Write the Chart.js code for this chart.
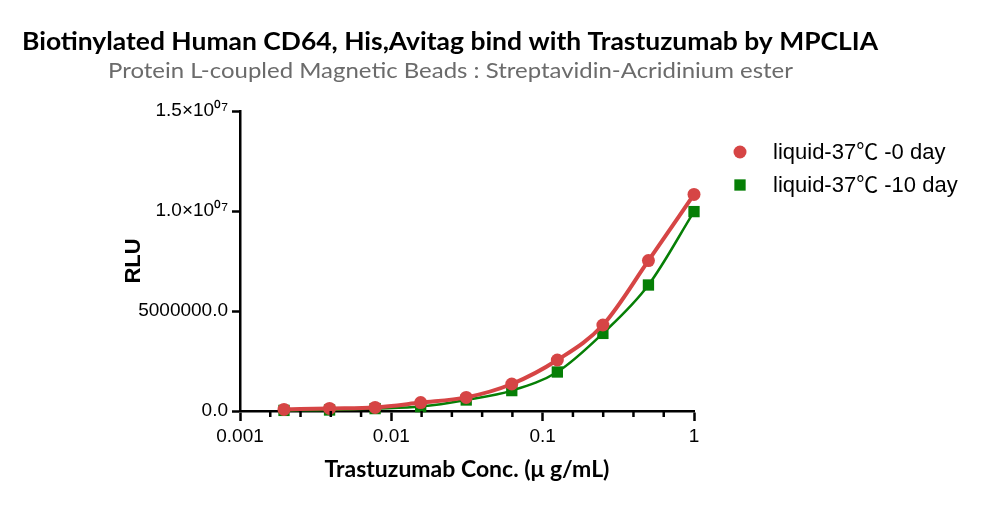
<!DOCTYPE html>
<html>
<head>
<meta charset="utf-8">
<script src="https://cdn.jsdelivr.net/npm/chart.js@4.4.1/dist/chart.umd.min.js"></script>
<style>
  html, body { margin: 0; padding: 0; background: #fff; }
  canvas { display: block; }
</style>
</head>
<body>
<canvas id="chart" width="1000" height="506"></canvas>
<script>
/* ---------- DATA ---------- */
const conc = [0.001953, 0.003906, 0.007813, 0.015625, 0.03125, 0.0625, 0.125, 0.25, 0.5, 1];
const day0 = [80000, 130000, 180000, 420000, 680000, 1350000, 2550000, 4300000, 7520000, 10830000];
const day10 = [30000, 50000, 120000, 220000, 550000, 1020000, 1950000, 3880000, 6300000, 9970000];
const seriesLabels = ["liquid-37℃ -0 day", "liquid-37℃ -10 day"];
const xTickValues = [0.001, 0.01, 0.1, 1];
const xTickLabels = ["0.001", "0.01", "0.1", "1"];
const yTickValues = [0, 5000000, 10000000, 15000000];
const yTickLabels = ["0.0", "5000000.0", "1.0×10⁰⁷", "1.5×10⁰⁷"];

const chartTitle = "Biotinylated Human CD64, His,Avitag bind with Trastuzumab by MPCLIA";
const chartSubtitle = "Protein L-coupled Magnetic Beads : Streptavidin-Acridinium ester";

/* ---------- COLORS ---------- */
const red = "#d64545";
const green = "#067f06";
const black = "#000";

/* ---------- HELPERS ---------- */
// draw text at a given size, squeezed horizontally so it spans a given width
function fitText(ctx, text, x, y, width, size, weight, family, color) {
  ctx.font = `${weight} ${size}px ${family}`;
  const sx = width / ctx.measureText(text).width;
  ctx.save();
  ctx.translate(x, y);
  ctx.scale(sx, 1);
  ctx.fillStyle = color;
  ctx.textAlign = "left";
  ctx.textBaseline = "alphabetic";
  ctx.fillText(text, 0, 0);
  ctx.restore();
}

/* ---------- PLUGINS ---------- */
const headerPlugin = {
  id: "header",
  afterDraw(chart) {
    const ctx = chart.ctx;
    fitText(ctx, chartTitle, 22, 50, 856, 25, "bold", "Lato", black);
    fitText(ctx, chartSubtitle, 108, 78, 685, 21.5, "normal", "Lato", "#6b6b6b");
  },
};

const minorTicks = {
  id: "minorTicks",
  afterDraw(chart) {
    const x = chart.scales.x;
    const ctx = chart.ctx;
    ctx.save();
    ctx.strokeStyle = black;
    ctx.lineWidth = 2.5;
    for (let d = -3; d < 0; d++) {
      for (let k = 1; k < 5; k++) {
        const px = x.getPixelForValue(Math.pow(10, d + k / 5));
        ctx.beginPath();
        ctx.moveTo(px, x.top);
        ctx.lineTo(px, x.top + 6);
        ctx.stroke();
      }
    }
    ctx.restore();
  },
};

const sideLegend = {
  id: "sideLegend",
  afterDraw(chart) {
    const ctx = chart.ctx;
    ctx.save();
    chart.data.datasets.forEach((ds, i) => {
      const y = 152 + i * 33;
      ctx.fillStyle = ds.pointBackgroundColor;
      Chart.helpers.drawPoint(
        ctx,
        { pointStyle: ds.pointStyle, radius: ds.pointRadius, rotation: 0, borderWidth: 0 },
        740,
        y,
      );
      ctx.fillStyle = black;
      ctx.font = "22px 'Liberation Sans', 'Noto Sans CJK SC', sans-serif";
      ctx.textBaseline = "middle";
      ctx.textAlign = "left";
      ctx.fillText(ds.label, 773, y + 1);
    });
    ctx.restore();
  },
};

/* ---------- CHART ---------- */
const tickFont = { family: "'Liberation Sans', Arial, sans-serif", size: 19 };

new Chart(document.getElementById("chart").getContext("2d"), {
  type: "line",
  data: {
    datasets: [
      {
        label: seriesLabels[0],
        data: conc.map((c, i) => ({ x: c, y: day0[i] })),
        borderColor: red,
        backgroundColor: red,
        pointBackgroundColor: red,
        pointBorderWidth: 0,
        pointStyle: "circle",
        pointRadius: 6.5,
        borderWidth: 4,
        cubicInterpolationMode: "monotone",
        clip: false,
      },
      {
        label: seriesLabels[1],
        data: conc.map((c, i) => ({ x: c, y: day10[i] })),
        borderColor: green,
        backgroundColor: green,
        pointBackgroundColor: green,
        pointBorderWidth: 0,
        pointStyle: "rect",
        pointRadius: 8,
        borderWidth: 2.5,
        cubicInterpolationMode: "monotone",
        clip: false,
      },
    ],
  },
  options: {
    responsive: false,
    animation: false,
    devicePixelRatio: 1,
    layout: { padding: { top: 111, right: 306, left: 0, bottom: 0 } },
    plugins: {
      legend: { display: false },
      tooltip: { enabled: false },
    },
    scales: {
      x: {
        type: "logarithmic",
        min: 0.001,
        max: 1,
        afterBuildTicks: (s) => {
          s.ticks = xTickValues.map((v) => ({ value: v }));
        },
        afterFit: (s) => {
          s.height = 95;
        },
        ticks: {
          color: black,
          font: tickFont,
          padding: 4,
          maxRotation: 0,
          autoSkip: false,
          callback: (v) => xTickLabels[xTickValues.indexOf(v)],
        },
        grid: {
          drawOnChartArea: false,
          drawTicks: true,
          tickLength: 10,
          tickWidth: 2.5,
          tickColor: black,
        },
        border: { color: black, width: 2.5 },
        title: {
          display: true,
          text: "Trastuzumab Conc. (μ g/mL)",
          color: black,
          font: { family: "Lato", weight: "bold", size: 23 },
          padding: { top: 0, bottom: 23 },
        },
      },
      y: {
        min: 0,
        max: 15000000,
        afterBuildTicks: (s) => {
          s.ticks = yTickValues.map((v) => ({ value: v }));
        },
        afterFit: (s) => {
          s.width = 240;
        },
        ticks: {
          color: black,
          font: tickFont,
          padding: 4,
          autoSkip: false,
          callback: (v) => yTickLabels[yTickValues.indexOf(v)],
        },
        grid: {
          drawOnChartArea: false,
          drawTicks: true,
          tickLength: 8,
          tickWidth: 2.5,
          tickColor: black,
        },
        border: { color: black, width: 2.5 },
        title: {
          display: true,
          text: "RLU",
          color: black,
          font: { family: "'Liberation Sans', Arial, sans-serif", weight: "bold", size: 22 },
          padding: { top: 121, bottom: 0 },
        },
      },
    },
  },
  plugins: [headerPlugin, minorTicks, sideLegend],
});
</script>
</body>
</html>
